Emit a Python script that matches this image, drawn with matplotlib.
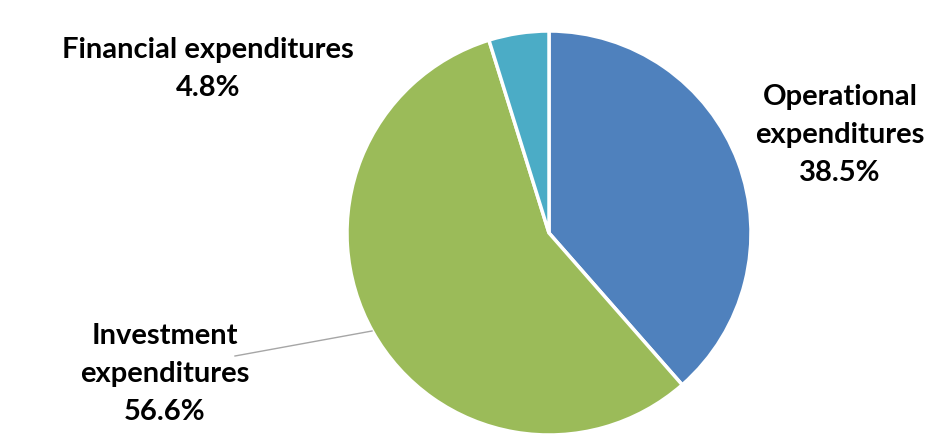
import matplotlib
matplotlib.use("Agg")
import matplotlib.pyplot as plt

categories = ["Operational\nexpenditures", "Investment\nexpenditures", "Financial expenditures"]
shares = [38.5, 56.6, 4.8]
colors = ["#4F81BD", "#9BBB59", "#4BACC6"]

W, H = 934, 437
fig = plt.figure(figsize=(W / 100, H / 100), dpi=100)
cx, cy, r = 549, 233, 202
ax = fig.add_axes([(cx - r) / W, (H - cy - r) / H, 2 * r / W, 2 * r / H])
ax.pie(shares, colors=colors, startangle=90, counterclock=False,
       wedgeprops=dict(edgecolor="white", linewidth=2.5), radius=1.0)
ax.set_xlim(-1, 1)
ax.set_ylim(-1, 1)
ax.set_aspect("equal")
ax.axis("off")

font = dict(family=["Lato", "DejaVu Sans"], fontweight="bold", fontsize=21,
            color="black", ha="center", va="center", linespacing=1.55)

def fx(x):
    return x / W

def fy(y):
    return 1 - y / H

fig.text(fx(840), fy(135), f"{categories[0]}\n{shares[0]}%", **font)
fig.text(fx(208), fy(69), f"{categories[2]}\n{shares[2]}%", **font)
fig.text(fx(165), fy(374), f"{categories[1]}\n{shares[1]}%", **font)

# leader line for Investment label
fig.add_artist(plt.Line2D([fx(235), fx(372)], [fy(356), fy(331)],
                          color="#A6A6A6", linewidth=1.0))

fig.savefig("out.png", dpi=100, facecolor="white")
